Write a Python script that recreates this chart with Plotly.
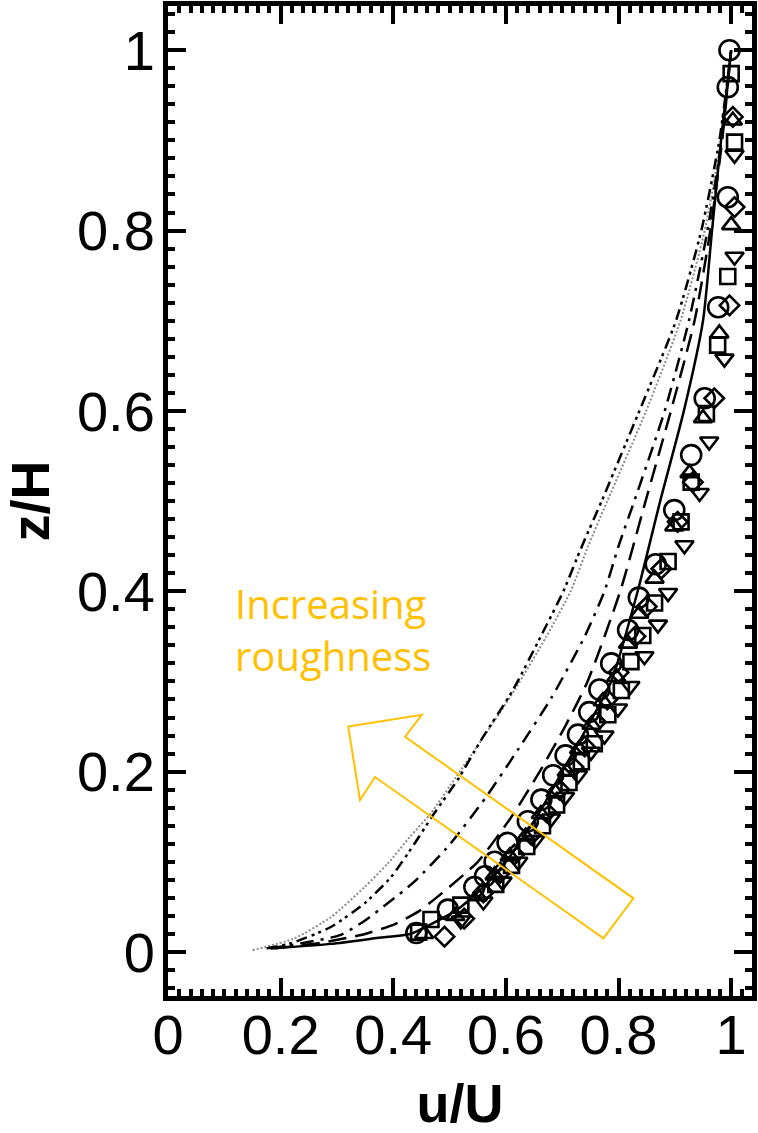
import plotly.graph_objects as go

# ---------------- data ----------------
X_TICKS = [0, 0.2, 0.4, 0.6, 0.8, 1.0]
X_TICK_TEXT = ["0", "0.2", "0.4", "0.6", "0.8", "1"]
Y_TICKS = [0, 0.2, 0.4, 0.6, 0.8, 1.0]
Y_TICK_TEXT = ["0", "0.2", "0.4", "0.6", "0.8", "1"]

# model curves (u/U vs z/H)
SOLID_Z = [0.004, 0.009, 0.016, 0.02, 0.035, 0.05, 0.075, 0.1, 0.15, 0.2, 0.25, 0.3, 0.4, 0.5, 0.6, 0.7, 0.8, 0.9, 1.0]
SOLID_U = [0.183, 0.29, 0.378, 0.43, 0.48, 0.52, 0.565, 0.60, 0.655, 0.70, 0.745, 0.787, 0.834, 0.874, 0.916, 0.950, 0.966, 0.982, 1.0]

DASH_Z = [0.004, 0.01, 0.02, 0.031, 0.045, 0.065, 0.1, 0.15, 0.2, 0.25, 0.3, 0.4, 0.5, 0.6, 0.7, 0.8, 0.9, 1.0]
DASH_U = [0.19, 0.27, 0.35, 0.403, 0.445, 0.486, 0.55, 0.61, 0.66, 0.705, 0.745, 0.803, 0.848, 0.893, 0.935, 0.963, 0.984, 1.0]

DASHDOT_Z = [0.004, 0.01, 0.019, 0.035, 0.054, 0.078, 0.119, 0.172, 0.224, 0.281, 0.35, 0.4, 0.45, 0.5, 0.6, 0.7, 0.8, 0.9, 1.0]
DASHDOT_U = [0.18, 0.24, 0.307, 0.35, 0.390, 0.4375, 0.50, 0.565, 0.621, 0.68, 0.74, 0.775, 0.80, 0.828, 0.882, 0.925, 0.958, 0.983, 1.0]

DASHDOTDOT_Z = [0.004, 0.01, 0.028, 0.054, 0.083, 0.12, 0.154, 0.191, 0.235, 0.29, 0.35, 0.4, 0.45, 0.5, 0.6, 0.7, 0.8, 0.9, 1.0]
DASHDOTDOT_U = [0.175, 0.22, 0.29, 0.349, 0.396, 0.4375, 0.473, 0.5145, 0.556, 0.612, 0.662, 0.702, 0.735, 0.77, 0.837, 0.902, 0.947, 0.979, 1.0]

DOTTED_Z = [0.002, 0.015, 0.039, 0.072, 0.098, 0.128, 0.154, 0.194, 0.24, 0.29, 0.35, 0.4, 0.45, 0.5, 0.6, 0.7, 0.8, 0.9, 1.0]
DOTTED_U = [0.150, 0.224, 0.290, 0.349, 0.39, 0.43, 0.467, 0.5115, 0.562, 0.615, 0.672, 0.715, 0.746, 0.78, 0.849, 0.91, 0.953, 0.982, 1.0]

# measured profiles
CIRCLE_Z = [1.0, 0.959, 0.837, 0.715, 0.614, 0.551, 0.490, 0.430, 0.393, 0.357, 0.320, 0.291, 0.266, 0.241, 0.218, 0.196, 0.169, 0.145, 0.121, 0.100, 0.084, 0.072, 0.047, 0.021]
CIRCLE_U = [0.997, 0.994, 0.994, 0.977, 0.953, 0.929, 0.899, 0.866, 0.836, 0.817, 0.787, 0.766, 0.748, 0.728, 0.706, 0.684, 0.663, 0.639, 0.603, 0.580, 0.563, 0.544, 0.497, 0.441]

SQUARE_Z = [0.974, 0.898, 0.749, 0.673, 0.597, 0.521, 0.477, 0.433, 0.387, 0.351, 0.322, 0.290, 0.263, 0.231, 0.211, 0.188, 0.163, 0.140, 0.117, 0.096, 0.075, 0.052, 0.036, 0.022]
SQUARE_U = [1.000, 1.006, 0.994, 0.976, 0.956, 0.929, 0.911, 0.888, 0.864, 0.843, 0.822, 0.805, 0.781, 0.757, 0.734, 0.712, 0.690, 0.665, 0.637, 0.610, 0.582, 0.520, 0.467, 0.445]

DIAMOND_Z = [0.926, 0.826, 0.717, 0.614, 0.521, 0.477, 0.425, 0.383, 0.350, 0.310, 0.280, 0.255, 0.228, 0.205, 0.180, 0.155, 0.130, 0.108, 0.088, 0.066, 0.037, 0.017]
DIAMOND_U = [1.003, 1.006, 0.997, 0.970, 0.932, 0.905, 0.876, 0.850, 0.830, 0.800, 0.780, 0.760, 0.740, 0.720, 0.695, 0.672, 0.645, 0.615, 0.590, 0.560, 0.526, 0.491]

TRI_UP_Z = [0.922, 0.806, 0.686, 0.592, 0.531, 0.472, 0.414, 0.375, 0.342, 0.305, 0.278, 0.252, 0.225, 0.200, 0.177, 0.153, 0.128, 0.106, 0.085, 0.062, 0.040, 0.020]
TRI_UP_U = [1.003, 1.000, 0.979, 0.950, 0.926, 0.899, 0.864, 0.837, 0.817, 0.796, 0.772, 0.752, 0.730, 0.708, 0.688, 0.662, 0.635, 0.607, 0.580, 0.550, 0.510, 0.455]

TRI_DOWN_Z = [0.884, 0.771, 0.658, 0.566, 0.509, 0.451, 0.398, 0.363, 0.328, 0.295, 0.270, 0.240, 0.222, 0.196, 0.172, 0.148, 0.124, 0.100, 0.078, 0.056, 0.035]
TRI_DOWN_U = [1.006, 1.006, 0.988, 0.961, 0.944, 0.917, 0.888, 0.870, 0.846, 0.821, 0.799, 0.775, 0.751, 0.728, 0.705, 0.680, 0.652, 0.622, 0.594, 0.560, 0.520]

ANNOT_TEXT = "Increasing<br>roughness"

# ---------------- figure ----------------
ORANGE = "#FFC000"
fig = go.Figure()

line_specs = [
    (DOTTED_U, DOTTED_Z, dict(color="#8a8a8a", width=2, dash="2px,2px")),
    (DASHDOTDOT_U, DASHDOTDOT_Z, dict(color="black", width=2.5, dash="11px,5px,3px,4px,3px,5px")),
    (DASHDOT_U, DASHDOT_Z, dict(color="black", width=2.5, dash="14px,7px,3px,7px")),
    (DASH_U, DASH_Z, dict(color="black", width=2.5, dash="18px,9px")),
    (SOLID_U, SOLID_Z, dict(color="black", width=2.5)),
]
for u, z, ln in line_specs:
    fig.add_trace(go.Scatter(x=u, y=z, mode="lines", line=dict(shape="spline", smoothing=0.6, **ln),
                             showlegend=False, hoverinfo="skip"))

marker_specs = [
    (CIRCLE_U, CIRCLE_Z, "circle-open", 20),
    (SQUARE_U, SQUARE_Z, "square-open", 15),
    (DIAMOND_U, DIAMOND_Z, "diamond-open", 15),
    (TRI_UP_U, TRI_UP_Z, "triangle-up-open", 16),
    (TRI_DOWN_U, TRI_DOWN_Z, "triangle-down-open", 16),
]
for u, z, sym, sz in marker_specs:
    fig.add_trace(go.Scatter(x=u, y=z, mode="markers",
                             marker=dict(symbol=sym, size=sz, color="black", line=dict(color="black", width=2.6)),
                             showlegend=False))

# block arrow outline
arrow_path = ("M 0.320 0.250 L 0.4506 0.263 L 0.421 0.2387 L 0.8265 0.0595 "
              "L 0.7732 0.0152 L 0.3677 0.194 L 0.341 0.1685 Z")
fig.add_shape(type="path", path=arrow_path, xref="x", yref="y",
              line=dict(color=ORANGE, width=2), fillcolor="rgba(0,0,0,0)")

fig.add_annotation(x=0.1155, y=0.358, xref="x", yref="y", text=ANNOT_TEXT, showarrow=False,
                   xanchor="left", yanchor="middle", align="left",
                   font=dict(family="Open Sans", size=40, color=ORANGE))

axis_common = dict(
    showline=True, linewidth=5, linecolor="black", mirror="ticks",
    ticks="inside", ticklen=18, tickwidth=4, tickcolor="black",
    showgrid=False, zeroline=False,
    tickfont=dict(family="Liberation Sans", size=56, color="black"),
    minor=dict(ticks="inside", ticklen=7, tickwidth=4, tickcolor="black", dtick=0.02, showgrid=False),
)

fig.update_layout(
    width=758, height=1133,
    margin=dict(l=168, r=6, t=6, b=137, autoexpand=False),
    paper_bgcolor="white", plot_bgcolor="white",
    xaxis=dict(range=[0, 1.037], tickvals=X_TICKS, ticktext=X_TICK_TEXT, ticklabelstandoff=-14,
               title=dict(text="u/U", standoff=30,
                          font=dict(family="Liberation Sans", size=54, color="black", weight="bold")),
               **axis_common),
    yaxis=dict(range=[-0.0488, 1.049], tickvals=Y_TICKS, ticktext=Y_TICK_TEXT, ticklabelstandoff=-3,
               title=dict(text="z/H", standoff=19,
                          font=dict(family="Liberation Sans", size=54, color="black", weight="bold")),
               **axis_common),
)

fig.write_html("out.html")
